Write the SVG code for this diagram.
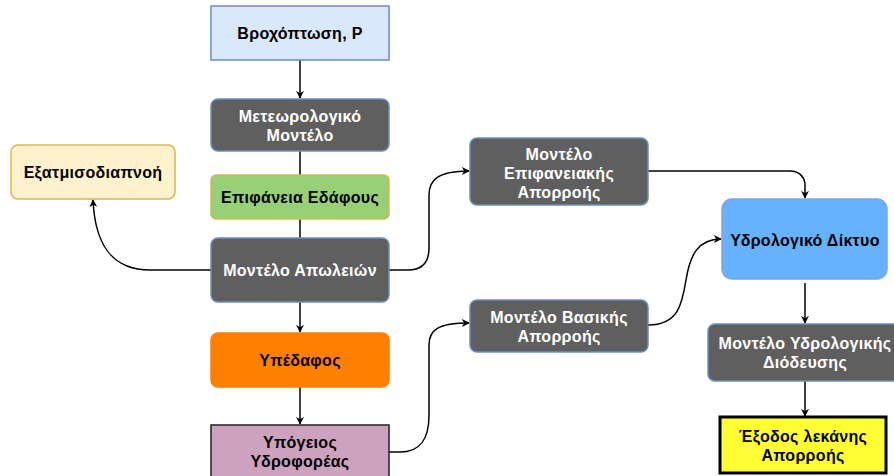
<svg xmlns="http://www.w3.org/2000/svg" width="894" height="476" viewBox="0 0 894 476">
<style>
text{font-family:"Liberation Sans",Arial,sans-serif;font-weight:bold;font-size:16px;letter-spacing:0.3px;text-anchor:middle;dominant-baseline:central}
.w{fill:#ffffff}
.k{fill:#000000}
.gray{fill:#5f5f5f;stroke:#6c8ebf;stroke-width:1.5}
.c{fill:none;stroke:#000;stroke-width:1.5}
</style>
<defs>
<marker id="ar" viewBox="0 0 10 10" refX="9" refY="5" markerWidth="8" markerHeight="8" orient="auto" markerUnits="userSpaceOnUse">
<path d="M0,0 L10,5 L0,10 L3,5 z" fill="#000"/>
</marker>
</defs>
<g id="connectors">
<path class="c" d="M300,60 L300,98" marker-end="url(#ar)"/>
<path class="c" d="M300,151 L300,175"/>
<path class="c" d="M300,219 L300,238"/>
<path class="c" d="M211,270 L150,270 C112,270 95,245 93,200" marker-end="url(#ar)"/>
<path class="c" d="M389,270 L408,270 C422,270 429,262 429,248 L429,195 C429,180 438,171 469,171" marker-end="url(#ar)"/>
<path class="c" d="M300,302 L300,332" marker-end="url(#ar)"/>
<path class="c" d="M300,387 L300,424" marker-end="url(#ar)"/>
<path class="c" d="M389,452 L400,452 C420,452 429,440 429,415 L429,345 C429,330 438,323 469,323" marker-end="url(#ar)"/>
<path class="c" d="M648,171 L790,171 C800,171 805,178 805,185 L805,198" marker-end="url(#ar)"/>
<path class="c" d="M648,325 C678,325 682,305 686,280 C690,255 698,239 721,239" marker-end="url(#ar)"/>
<path class="c" d="M805,283 L805,323" marker-end="url(#ar)"/>
<path class="c" d="M805,381 L805,416" marker-end="url(#ar)"/>
</g>
<g id="n-rain">
<rect x="211" y="6" width="178" height="54" fill="#dae8fc" stroke="#6c8ebf" stroke-width="1.5"/>
<text class="k" x="300" y="33">Βροχόπτωση, P</text>
</g>
<g id="n-meteo">
<rect class="gray" x="211" y="99" width="178" height="52" rx="7"/>
<text class="w" x="300" y="116">Μετεωρολογικό</text>
<text class="w" x="300" y="135">Μοντέλο</text>
</g>
<g id="n-surface">
<rect x="211" y="175" width="178" height="44" rx="5" fill="#97d077" stroke="#d6b656" stroke-width="1.5"/>
<text class="k" x="300" y="197">Επιφάνεια Εδάφους</text>
</g>
<g id="n-et">
<rect x="11" y="145" width="164" height="54" rx="7" fill="#fff2cc" stroke="#d6b656" stroke-width="1.5"/>
<text class="k" x="93" y="172">Εξατμισοδιαπνοή</text>
</g>
<g id="n-loss">
<rect class="gray" x="211" y="238" width="178" height="64" rx="7"/>
<text class="w" x="300" y="270">Μοντέλο Απωλειών</text>
</g>
<g id="n-subsoil">
<rect x="211" y="333" width="178" height="54" rx="7" fill="#ff8000" stroke="#ff8000" stroke-width="1.5"/>
<text class="k" x="300" y="360">Υπέδαφος</text>
</g>
<g id="n-aquifer">
<rect x="211" y="425" width="178" height="60" fill="#cda2be" stroke="#222" stroke-width="1.5"/>
<text class="k" x="300" y="442">Υπόγειος</text>
<text class="k" x="300" y="461">Υδροφορέας</text>
</g>
<g id="n-runoff">
<rect class="gray" x="470" y="138" width="178" height="67" rx="7"/>
<text class="w" x="559" y="154">Μοντέλο</text>
<text class="w" x="559" y="173">Επιφανειακής</text>
<text class="w" x="559" y="192">Απορροής</text>
</g>
<g id="n-base">
<rect class="gray" x="470" y="300" width="178" height="52" rx="7"/>
<text class="w" x="559" y="317">Μοντέλο Βασικής</text>
<text class="w" x="559" y="336">Απορροής</text>
</g>
<g id="n-network">
<rect x="722" y="199" width="165" height="80" rx="10" fill="#66b2ff" stroke="#7ea6e0" stroke-width="1.5"/>
<text class="k" x="805" y="240">Υδρολογικό Δίκτυο</text>
</g>
<g id="n-routing">
<rect class="gray" x="708" y="324" width="194" height="57" rx="7"/>
<text class="w" x="805" y="343">Μοντέλο Υδρολογικής</text>
<text class="w" x="805" y="362">Διόδευσης</text>
</g>
<g id="n-outlet">
<rect x="720" y="417" width="166" height="56" fill="#ffff33" stroke="#000" stroke-width="3"/>
<text class="k" x="803" y="436">Έξοδος λεκάνης</text>
<text class="k" x="803" y="455">Απορροής</text>
</g>
</svg>
